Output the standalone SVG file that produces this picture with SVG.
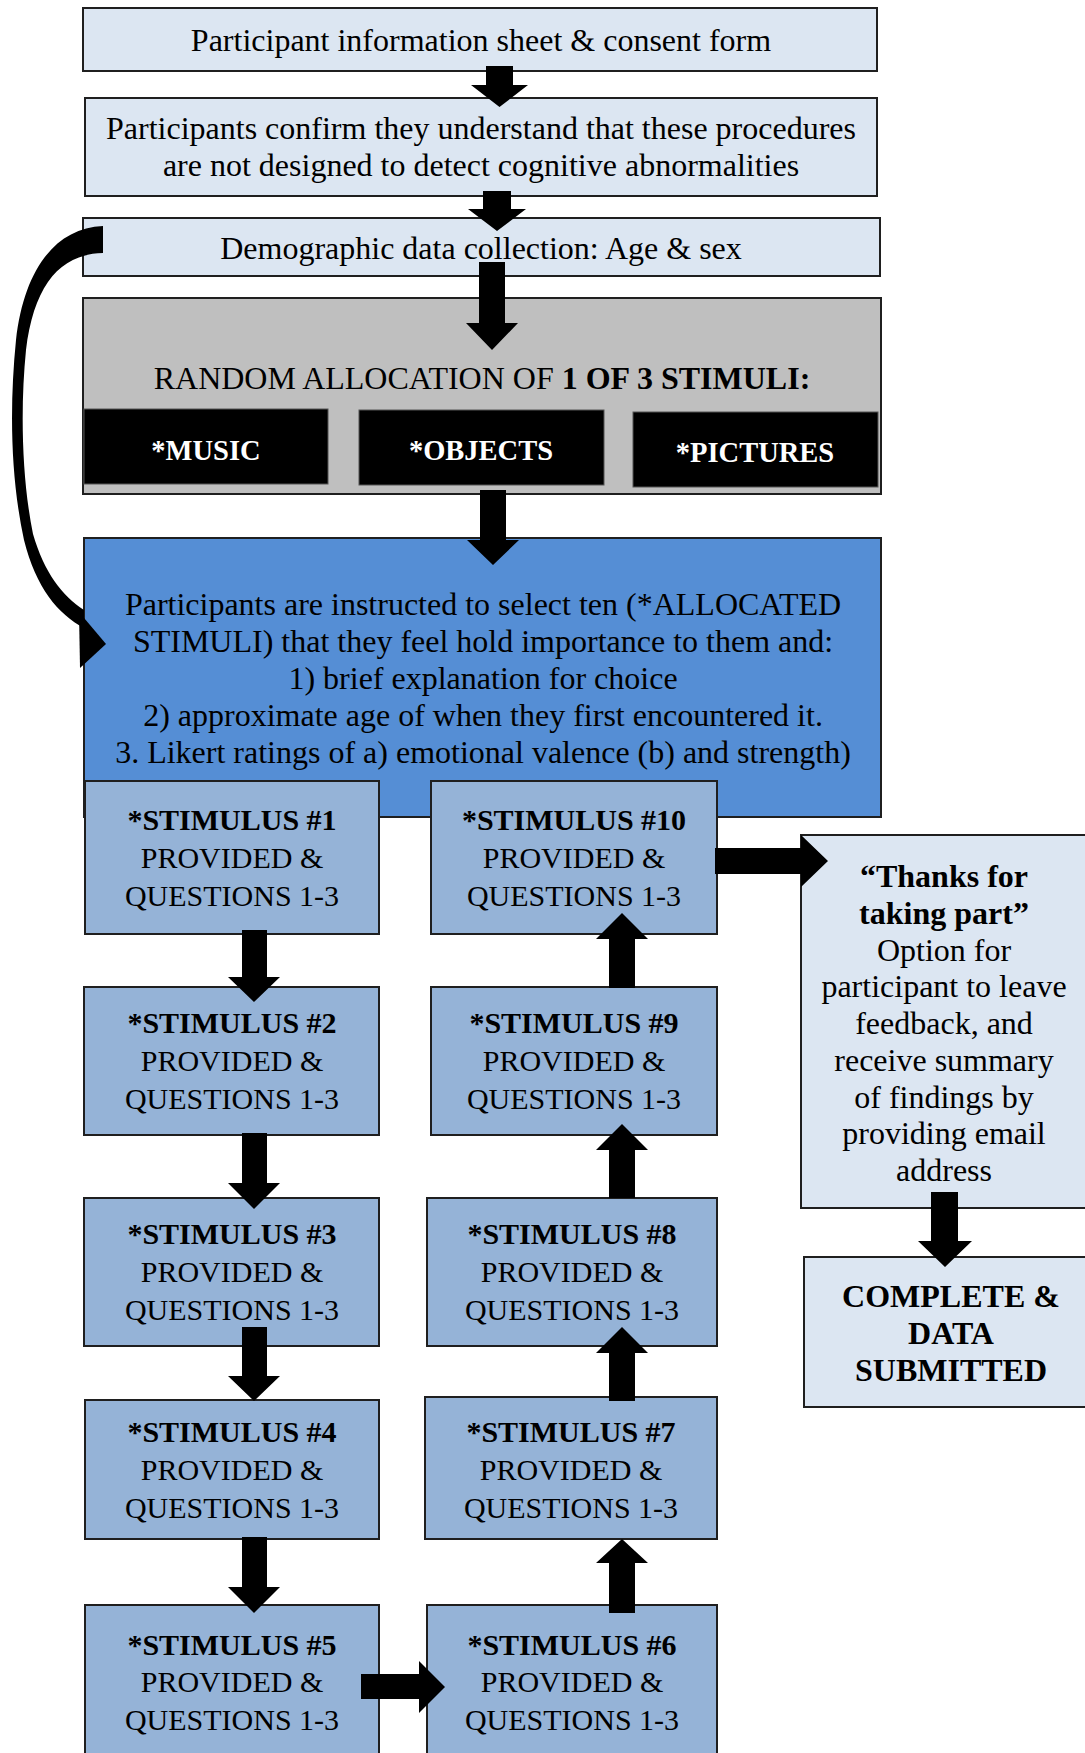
<svg xmlns="http://www.w3.org/2000/svg" width="1085" height="1753" viewBox="0 0 1085 1753">
<style>
.lt{fill:#DCE6F2;stroke:#1f1f1f;stroke-width:2}
.gr{fill:#BFBFBF;stroke:#1f1f1f;stroke-width:2}
.bk{fill:#000;stroke:#555;stroke-width:1}
.bl{fill:#558ED5;stroke:#1f1f1f;stroke-width:2}
.st{fill:#95B3D7;stroke:#1f1f1f;stroke-width:2}
.t{font-family:"Liberation Serif","Times New Roman",serif;font-size:32px;fill:#000;text-anchor:middle}
.s{font-family:"Liberation Serif","Times New Roman",serif;font-size:30px;fill:#000;text-anchor:middle}
.w{font-family:"Liberation Serif","Times New Roman",serif;font-size:28.5px;font-weight:bold;fill:#fff;text-anchor:middle}
.b{font-weight:bold}
.a{fill:#000}
</style>
<g id="n1"><rect class="lt" x="83" y="8" width="794" height="63"/><text class="t" x="481" y="51">Participant information sheet &amp; consent form</text></g>
<g id="n2"><rect class="lt" x="85" y="98" width="792" height="98"/><text class="t" x="481" y="139">Participants confirm they understand that these procedures</text><text class="t" x="481" y="176">are not designed to detect cognitive abnormalities</text></g>
<g id="n3"><rect class="lt" x="83" y="218" width="797" height="58"/><text class="t" x="481" y="259">Demographic data collection: Age &amp; sex</text></g>
<g id="n4"><rect class="gr" x="83" y="298" width="798" height="196"/><text class="t" x="482" y="389">RANDOM ALLOCATION OF <tspan class="b">1 OF 3 STIMULI:</tspan></text>
<rect class="bk" x="84" y="409" width="244" height="75"/><text class="w" x="206" y="460">*MUSIC</text>
<rect class="bk" x="359" y="410" width="245" height="75"/><text class="w" x="481" y="460">*OBJECTS</text>
<rect class="bk" x="633" y="412" width="245" height="75"/><text class="w" x="755" y="462">*PICTURES</text></g>
<g id="n5"><rect class="bl" x="84" y="538" width="797" height="279"/>
<text class="t" x="483" y="615">Participants are instructed to select ten (*ALLOCATED</text>
<text class="t" x="483" y="652">STIMULI) that they feel hold importance to them and:</text>
<text class="t" x="483" y="689">1) brief explanation for choice</text>
<text class="t" x="483" y="726">2) approximate age of when they first encountered it.</text>
<text class="t" x="483" y="763">3. Likert ratings of a) emotional valence (b) and strength)</text></g>
<g id="s1"><rect class="st" x="85" y="781" width="294" height="153"/><text class="s" x="232" y="830"><tspan class="b">*STIMULUS #1</tspan></text><text class="s" x="232" y="868">PROVIDED &amp;</text><text class="s" x="232" y="906">QUESTIONS 1-3</text></g>
<g id="s2"><rect class="st" x="84" y="987" width="295" height="148"/><text class="s" x="232" y="1033"><tspan class="b">*STIMULUS #2</tspan></text><text class="s" x="232" y="1071">PROVIDED &amp;</text><text class="s" x="232" y="1109">QUESTIONS 1-3</text></g>
<g id="s3"><rect class="st" x="84" y="1198" width="295" height="148"/><text class="s" x="232" y="1244"><tspan class="b">*STIMULUS #3</tspan></text><text class="s" x="232" y="1282">PROVIDED &amp;</text><text class="s" x="232" y="1320">QUESTIONS 1-3</text></g>
<g id="s4"><rect class="st" x="85" y="1400" width="294" height="139"/><text class="s" x="232" y="1442"><tspan class="b">*STIMULUS #4</tspan></text><text class="s" x="232" y="1480">PROVIDED &amp;</text><text class="s" x="232" y="1518">QUESTIONS 1-3</text></g>
<g id="s5"><rect class="st" x="85" y="1605" width="294" height="160"/><text class="s" x="232" y="1655"><tspan class="b">*STIMULUS #5</tspan></text><text class="s" x="232" y="1692">PROVIDED &amp;</text><text class="s" x="232" y="1730">QUESTIONS 1-3</text></g>
<g id="s6"><rect class="st" x="427" y="1605" width="290" height="160"/><text class="s" x="572" y="1655"><tspan class="b">*STIMULUS #6</tspan></text><text class="s" x="572" y="1692">PROVIDED &amp;</text><text class="s" x="572" y="1730">QUESTIONS 1-3</text></g>
<g id="s7"><rect class="st" x="425" y="1397" width="292" height="142"/><text class="s" x="571" y="1442"><tspan class="b">*STIMULUS #7</tspan></text><text class="s" x="571" y="1480">PROVIDED &amp;</text><text class="s" x="571" y="1518">QUESTIONS 1-3</text></g>
<g id="s8"><rect class="st" x="427" y="1198" width="290" height="148"/><text class="s" x="572" y="1244"><tspan class="b">*STIMULUS #8</tspan></text><text class="s" x="572" y="1282">PROVIDED &amp;</text><text class="s" x="572" y="1320">QUESTIONS 1-3</text></g>
<g id="s9"><rect class="st" x="431" y="987" width="286" height="148"/><text class="s" x="574" y="1033"><tspan class="b">*STIMULUS #9</tspan></text><text class="s" x="574" y="1071">PROVIDED &amp;</text><text class="s" x="574" y="1109">QUESTIONS 1-3</text></g>
<g id="s10"><rect class="st" x="431" y="781" width="286" height="153"/><text class="s" x="574" y="830"><tspan class="b">*STIMULUS #10</tspan></text><text class="s" x="574" y="868">PROVIDED &amp;</text><text class="s" x="574" y="906">QUESTIONS 1-3</text></g>
<g id="n6"><rect class="lt" x="801" y="835" width="300" height="373"/>
<text class="t" x="944" y="887"><tspan class="b">“Thanks for</tspan></text>
<text class="t" x="944" y="924"><tspan class="b">taking part”</tspan></text>
<text class="t" x="944" y="961">Option for</text>
<text class="t" x="944" y="997">participant to leave</text>
<text class="t" x="944" y="1034">feedback, and</text>
<text class="t" x="944" y="1071">receive summary</text>
<text class="t" x="944" y="1108">of findings by</text>
<text class="t" x="944" y="1144">providing email</text>
<text class="t" x="944" y="1181">address</text></g>
<g id="n7"><rect class="lt" x="804" y="1257" width="300" height="150"/>
<text class="t b" x="951" y="1307">COMPLETE &amp;</text>
<text class="t b" x="951" y="1344">DATA</text>
<text class="t b" x="951" y="1381">SUBMITTED</text></g>
<g id="connectors">
<polygon class="a" points="486,66 513,66 513,85 528,85 499.5,107 471,85 486,85"/>
<polygon class="a" points="483,191 511,191 511,209 526,209 497,231 468,209 483,209"/>
<polygon class="a" points="479,262 505,262 505,323 518,323 492,350 466,323 479,323"/>
<polygon class="a" points="480,490 506,490 506,540 519,540 493,565 467,540 480,540"/>
<polygon class="a" points="242,930 267,930 267,977 280,977 254,1002 228,977 242,977"/>
<polygon class="a" points="242,1133 267,1133 267,1183 280,1183 254,1209 228,1183 242,1183"/>
<polygon class="a" points="242,1327 267,1327 267,1376 280,1376 254,1401 228,1376 242,1376"/>
<polygon class="a" points="242,1537 267,1537 267,1587 280,1587 254,1613 228,1587 242,1587"/>
<polygon class="a" points="361,1674 419,1674 419,1661 445,1687 419,1713 419,1699 361,1699"/>
<polygon class="a" points="609,1613 635,1613 635,1563 648,1563 622,1539 596,1563 609,1563"/>
<polygon class="a" points="609,1401 635,1401 635,1353 648,1353 622,1327 596,1353 609,1353"/>
<polygon class="a" points="609,1198 635,1198 635,1150 648,1150 622,1124 596,1150 609,1150"/>
<polygon class="a" points="609,988 635,988 635,939 648,939 622,913 596,939 609,939"/>
<polygon class="a" points="715,848 801,848 801,835 828,861 801,887 801,874 715,874"/>
<polygon class="a" points="931,1192 958,1192 958,1241 972,1241 945,1267 918,1241 931,1241"/>
<path class="a" d="M103,226 C55,228 24,270 16,340 C9,410 11,480 24,540 C36,588 58,614 84,628 L84,610 C62,596 44,572 33,534 C22,480 20,410 26,350 C34,285 60,254 103,253 Z"/>
<polygon class="a" points="79,612 80,668 106,644"/>
</g>
</svg>
